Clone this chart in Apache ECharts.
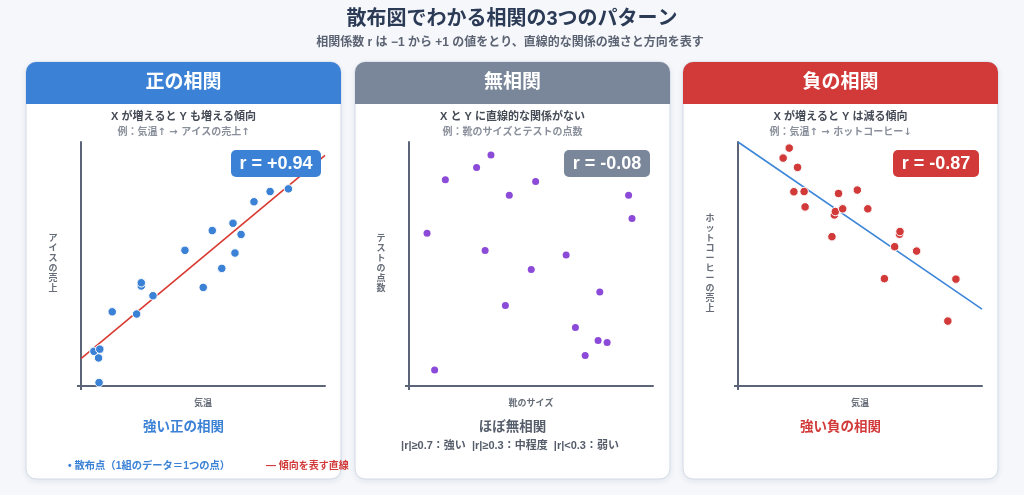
<!DOCTYPE html>
<html>
<head>
<meta charset="utf-8">
<script src="https://cdn.jsdelivr.net/npm/echarts@6/dist/echarts.min.js"></script>
<style>
html,body{margin:0;padding:0;background:#f5f7fb;}
#c{width:1024px;height:495px;}
</style>
</head>
<body>
<div id="c"></div>
<script>
// ---- Data ----
const posX = [5.3, 7.7, 7.2, 7.4, 12.8, 22.8, 24.7, 24.7, 29.5, 42.6, 50.1, 53.8, 57.7, 62.3, 63.1, 65.6, 70.9, 77.5, 85.0];
const posY = [14.2, 15.1, 11.5, 1.4, 30.4, 29.5, 41.0, 42.3, 37.0, 55.6, 40.4, 63.7, 48.2, 66.7, 54.5, 62.1, 75.5, 79.7, 80.8];
const posTrendX = [0, 100];
const posTrendY = [11.2, 94.5];

const noneX = [7.4, 10.5, 14.9, 27.7, 31.2, 33.6, 39.5, 41.1, 50.1, 51.9, 64.4, 68.2, 72.2, 77.5, 78.2, 81.2, 90.0, 91.4];
const noneY = [62.6, 6.6, 84.5, 89.6, 55.5, 94.7, 33.0, 78.2, 47.7, 83.8, 53.7, 24.0, 12.5, 18.6, 38.5, 17.8, 78.2, 68.6];

const negX = [18.5, 21.0, 24.4, 22.9, 27.1, 27.5, 38.5, 39.5, 39.9, 41.2, 42.9, 48.9, 53.2, 60.0, 64.2, 66.2, 66.4, 73.2, 86.0, 89.3];
const negY = [93.4, 97.5, 89.6, 79.6, 79.7, 73.4, 61.2, 70.1, 71.5, 78.9, 72.6, 80.3, 72.6, 44.0, 57.1, 62.2, 63.3, 55.3, 26.6, 43.8];
const negTrendX = [0, 100];
const negTrendY = [100, 31.5];

const panelTitles = ['正の相関', '無相関', '負の相関'];
const panelDesc = ['X が増えると Y も増える傾向', 'X と Y に直線的な関係がない', 'X が増えると Y は減る傾向'];
const panelExample = ['例：気温↑ → アイスの売上↑', '例：靴のサイズとテストの点数', '例：気温↑ → ホットコーヒー↓'];
const xNames = ['気温', '靴のサイズ', '気温'];
const yNames = ['アイスの売上', 'テストの点数', 'ホットコーヒーの売上'];
const rLabels = ['r = +0.94', 'r = -0.08', 'r = -0.87'];
const verdicts = ['強い正の相関', 'ほぼ無相関', '強い負の相関'];

// ---- Style ----
const FONT = '"Liberation Sans", "Noto Sans CJK JP", sans-serif';
const FONT_ARROW = '"DejaVu Sans", "Noto Sans CJK JP", sans-serif';
const BLUE = '#3b82d6', GRAY = '#7a8699', RED = '#d23a3a', PURPLE = '#8c4ad8';
const colors = [BLUE, GRAY, RED];
const verdictColors = [BLUE, '#555d6b', RED];
const cardX = [26, 355, 683];
const cardW = 315;
const gridLeft = [81, 409, 738];
const gridW = 244;
const rBoxX = [231, 564, 893];
const rBoxW = [90, 86, 86];

const zip = (a, b) => a.map((v, i) => [v, b[i]]);

const chart = echarts.init(document.getElementById('c'));

const grids = [], xAxes = [], yAxes = [], graphics = [];
for (let i = 0; i < 3; i++) {
  grids.push({ left: gridLeft[i], top: 142, width: gridW, height: 244 });
  const axisCommon = {
    type: 'value', min: 0, max: 100, interval: 20, gridIndex: i,
    axisLine: { show: true, lineStyle: { color: '#5c6577', width: 2 } },
    axisTick: { show: true, customValues: [0], length: 4, lineStyle: { color: '#5c6577', width: 2 } },
    axisLabel: { show: false },
    splitLine: { show: true, showMaxLine: false, lineStyle: { color: '#eceff4', width: 1 } }
  };
  xAxes.push(Object.assign({}, axisCommon, {
    name: xNames[i], nameLocation: 'middle', nameGap: 13,
    nameTextStyle: { fontFamily: FONT, fontSize: 9, fontWeight: 'bold', color: '#666d78' }
  }));
  yAxes.push(Object.assign({}, axisCommon, {
    name: yNames[i].split('').join('\n'), nameLocation: 'middle', nameGap: 28, nameRotate: 0,
    nameTextStyle: { fontFamily: FONT, fontSize: 9, fontWeight: 'bold', color: '#666d78', lineHeight: 10, align: 'center' }
  }));

  // card
  graphics.push({
    type: 'rect', z: 0, shape: { x: cardX[i], y: 62, width: cardW, height: 417, r: 10 },
    style: { fill: '#ffffff', stroke: '#d3dbe7', lineWidth: 1, shadowBlur: 6, shadowColor: 'rgba(30,50,90,0.08)', shadowOffsetY: 2 }
  });
  graphics.push({
    type: 'rect', z: 1, shape: { x: cardX[i], y: 62, width: cardW, height: 42, r: [10, 10, 0, 0] },
    style: { fill: colors[i] }
  });
  graphics.push({
    type: 'text', z: 2, x: cardX[i] + cardW / 2, y: 83,
    style: { text: panelTitles[i], fill: '#fff', font: 'bold 19px ' + FONT, textAlign: 'center', textVerticalAlign: 'middle' }
  });
  graphics.push({
    type: 'text', z: 2, x: cardX[i] + cardW / 2, y: 116.5,
    style: { text: panelDesc[i], fill: '#454b56', font: 'bold 11px ' + FONT, textAlign: 'center', textVerticalAlign: 'middle' }
  });
  graphics.push({
    type: 'text', z: 2, x: cardX[i] + cardW / 2, y: 132.5,
    style: { text: panelExample[i], fill: '#8a909b', font: 'bold 10px ' + FONT_ARROW, textAlign: 'center', textVerticalAlign: 'middle' }
  });
  // r box
  graphics.push({
    type: 'rect', z: 10, shape: { x: rBoxX[i], y: 150, width: rBoxW[i], height: 27, r: 5 },
    style: { fill: colors[i] }
  });
  graphics.push({
    type: 'text', z: 11, x: rBoxX[i] + rBoxW[i] / 2, y: 164,
    style: { text: rLabels[i], fill: '#fff', font: 'bold 18px ' + FONT, textAlign: 'center', textVerticalAlign: 'middle' }
  });
  // verdict
  graphics.push({
    type: 'text', z: 2, x: cardX[i] + cardW / 2, y: 427,
    style: { text: verdicts[i], fill: verdictColors[i], font: 'bold 13.5px ' + FONT, textAlign: 'center', textVerticalAlign: 'middle' }
  });
}

graphics.push({
  type: 'text', x: 512, y: 19,
  style: { text: '散布図でわかる相関の3つのパターン', fill: '#2b3a55', font: 'bold 20px ' + FONT, textAlign: 'center', textVerticalAlign: 'middle' }
});
graphics.push({
  type: 'text', x: 510, y: 42.5,
  style: { text: '相関係数 r は −1 から +1 の値をとり、直線的な関係の強さと方向を表す', fill: '#5b6372', font: 'bold 12px ' + FONT, textAlign: 'center', textVerticalAlign: 'middle' }
});
graphics.push({
  type: 'text', z: 2, x: 510, y: 445.5,
  style: { text: '|r|≥0.7：強い  |r|≥0.3：中程度  |r|<0.3：弱い', fill: '#555d6b', font: 'bold 11px ' + FONT, textAlign: 'center', textVerticalAlign: 'middle' }
});
graphics.push({
  type: 'text', z: 2, x: 68, y: 466,
  style: { text: '• 散布点（1組のデータ＝1つの点）', fill: BLUE, font: 'bold 10.3px ' + FONT, textAlign: 'left', textVerticalAlign: 'middle' }
});
graphics.push({
  type: 'text', z: 2, x: 266, y: 466,
  style: { text: '— 傾向を表す直線', fill: RED, font: 'bold 10px ' + FONT, textAlign: 'left', textVerticalAlign: 'middle' }
});

const option = {
  animation: false,
  backgroundColor: '#f5f7fb',
  grid: grids,
  xAxis: xAxes,
  yAxis: yAxes,
  graphic: graphics,
  series: [
    { type: 'line', xAxisIndex: 0, yAxisIndex: 0, data: zip(posTrendX, posTrendY), symbol: 'none', z: 3,
      lineStyle: { color: '#d93a32', width: 1.6 } },
    { type: 'scatter', xAxisIndex: 0, yAxisIndex: 0, data: zip(posX, posY), symbolSize: 8.5, z: 4,
      itemStyle: { color: BLUE, borderColor: '#fff', borderWidth: 1, opacity: 1 } },
    { type: 'scatter', xAxisIndex: 1, yAxisIndex: 1, data: zip(noneX, noneY), symbolSize: 7, z: 4,
      itemStyle: { color: PURPLE, opacity: 1 } },
    { type: 'line', xAxisIndex: 2, yAxisIndex: 2, data: zip(negTrendX, negTrendY), symbol: 'none', z: 3,
      lineStyle: { color: '#3d86d8', width: 1.6 } },
    { type: 'scatter', xAxisIndex: 2, yAxisIndex: 2, data: zip(negX, negY), symbolSize: 8.5, z: 4,
      itemStyle: { color: RED, borderColor: '#fff', borderWidth: 1, opacity: 1 } }
  ]
};
chart.setOption(option);
</script>
</body>
</html>
